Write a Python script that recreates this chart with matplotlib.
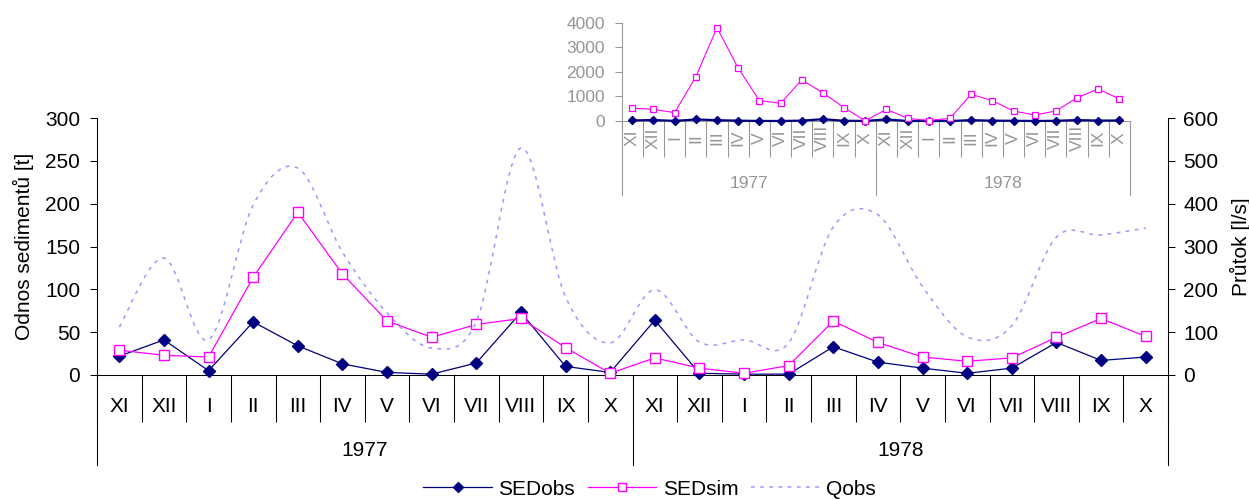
import numpy as np
import matplotlib
matplotlib.use("Agg")
import matplotlib.pyplot as plt
import matplotlib.transforms as mtransforms
from matplotlib.path import Path
from matplotlib.patches import PathPatch
from matplotlib.lines import Line2D

plt.rcParams['font.family'] = ['Liberation Sans', 'DejaVu Sans']

# data
months = ['XI', 'XII', 'I', 'II', 'III', 'IV', 'V', 'VI', 'VII', 'VIII', 'IX', 'X'] * 2
years = ['1977', '1978']
sed_obs = [22, 41, 5, 62, 34, 13, 3, 1, 14, 73, 10, 3,
           64, 2, 1, 1, 33, 15, 8, 2, 8, 38, 17, 21]
sed_sim = [29, 23, 21, 114, 190, 118, 63, 44, 59, 66, 32, 2,
           20, 8, 2, 11, 63, 38, 21, 16, 20, 44, 66, 45]
q_obs = [112, 273, 82, 397, 483, 287, 145, 63, 125, 530, 182, 75,
         199, 77, 82, 75, 346, 374, 206, 89, 115, 322, 327, 343]
sed_sim_inset = [520, 475, 340, 1800, 3800, 2150, 830, 720, 1670, 1150, 540, 10,
                 475, 110, 20, 110, 1085, 826, 407, 244, 407, 948, 1302, 895]

NAVY = '#000080'
MAGENTA = '#FF00FF'
QCOL = '#9999FF'
GRAY = '#969696'
W, H = 1249, 499


def smooth_path(x, y):
    # excel-like smoothed line as cubic bezier segments
    x = np.asarray(x, float)
    y = np.asarray(y, float)
    n = len(x)
    verts = [(x[0], y[0])]
    codes = [Path.MOVETO]
    for i in range(n - 1):
        i0 = max(i - 1, 0)
        i3 = min(i + 2, n - 1)
        c1 = (x[i] + (x[i + 1] - x[i0]) / 6, y[i] + (y[i + 1] - y[i0]) / 6)
        c2 = (x[i + 1] - (x[i3] - x[i]) / 6, y[i + 1] - (y[i3] - y[i]) / 6)
        verts += [c1, c2, (x[i + 1], y[i + 1])]
        codes += [Path.CURVE4] * 3
    return Path(verts, codes)


def category_axis(ax, height_px, sep_px, year_px, month_px, year_lbl_px,
                  color, fs, rot):
    n = len(months)
    x = np.arange(n)
    tr = mtransforms.blended_transform_factory(ax.transData, ax.transAxes)
    ax.set_xlim(-0.5, n - 0.5)
    ax.set_xticks(np.arange(-0.5, n, 1))
    ax.tick_params(axis='x', length=sep_px * 0.72, width=0.75, color=color,
                   labelbottom=False, direction='out')
    for i, m in enumerate(months):
        ax.text(x[i], -month_px / height_px, m, transform=tr, ha='center',
                va='center', fontsize=fs, color=color, rotation=rot)
    for xb in [-0.5, n / 2 - 0.5, n - 0.5]:
        ax.plot([xb, xb], [0, -year_px / height_px], transform=tr, color=color,
                lw=0.75, clip_on=False)
    for k, yr in enumerate(years):
        ax.text(n / 4 - 0.5 + k * n / 2, -year_lbl_px / height_px, yr,
                transform=tr, ha='center', va='center', fontsize=fs, color=color)


fig = plt.figure(figsize=(W / 100, H / 100), dpi=100)

# main chart
ax = fig.add_axes([97 / W, 1 - 375 / H, (1168 - 97) / W, (375 - 118) / H])
x = np.arange(len(months))
l_obs, = ax.plot(x, sed_obs, color=NAVY, lw=0.9, marker='D', ms=6.5,
                 mfc=NAVY, mec=NAVY, clip_on=False, zorder=3)
l_sim, = ax.plot(x, sed_sim, color=MAGENTA, lw=0.9, marker='s', ms=7,
                 mfc='white', mec=MAGENTA, mew=1.0, clip_on=False, zorder=4)
ax.set_ylim(0, 300)
ax.set_yticks(np.arange(0, 301, 50))
ax.tick_params(axis='y', length=5, width=0.75, pad=7, labelsize=15)
ax.set_ylabel('Odnos sedimentů [t]', fontsize=15, labelpad=8)
for s in ['top', 'right']:
    ax.spines[s].set_visible(False)
for s in ['left', 'bottom']:
    ax.spines[s].set_linewidth(0.75)
category_axis(ax, 257, 47, 90, 32, 76, 'black', 15, 0)

ax2 = ax.twinx()
ax2.set_ylim(0, 600)
ax2.set_yticks(np.arange(0, 601, 100))
ax2.tick_params(axis='y', length=5, width=0.75, pad=6, labelsize=15)
ax2.set_ylabel('Průtok [l/s]', fontsize=15, labelpad=8)
for s in ['top', 'left', 'bottom']:
    ax2.spines[s].set_visible(False)
ax2.spines['right'].set_linewidth(0.75)
ax2.add_patch(PathPatch(smooth_path(x, q_obs), fill=False, edgecolor=QCOL,
                        lw=1.1, linestyle=(0, (2.5, 3.5))))
q_handle = Line2D([], [], color=QCOL, lw=1.1, linestyle=(0, (2.5, 3.5)))

# inset
axi = fig.add_axes([621.7 / W, 1 - 121 / H, (1130 - 621.7) / W, (121 - 22.7) / H])
axi.set_facecolor('none')
axi.plot(x, sed_obs, color=NAVY, lw=1.6, marker='D', ms=4.5, mfc=NAVY,
         mec=NAVY, clip_on=False, zorder=3)
axi.plot(x, sed_sim_inset, color=MAGENTA, lw=0.8, marker='s', ms=4.5,
         mfc='white', mec=MAGENTA, mew=0.9, clip_on=False, zorder=4)
axi.set_ylim(0, 4000)
axi.set_yticks(np.arange(0, 4001, 1000))
axi.tick_params(axis='y', length=5, width=0.75, color=GRAY, labelcolor=GRAY,
                pad=7, labelsize=12.5)
for s in ['top', 'right']:
    axi.spines[s].set_visible(False)
for s in ['left', 'bottom']:
    axi.spines[s].set_color(GRAY)
    axi.spines[s].set_linewidth(0.75)
category_axis(axi, 98.3, 36, 74, 17, 62, GRAY, 12.5, 90)

fig.legend([l_obs, l_sim, q_handle], ['SEDobs', 'SEDsim', 'Qobs'],
           loc='center', bbox_to_anchor=(0.52, 0.02), ncol=3, frameon=False,
           handlelength=3.3, handletextpad=0.3, columnspacing=0.6, fontsize=15,
           markerscale=0.75)

fig.savefig('out.png', dpi=100)
